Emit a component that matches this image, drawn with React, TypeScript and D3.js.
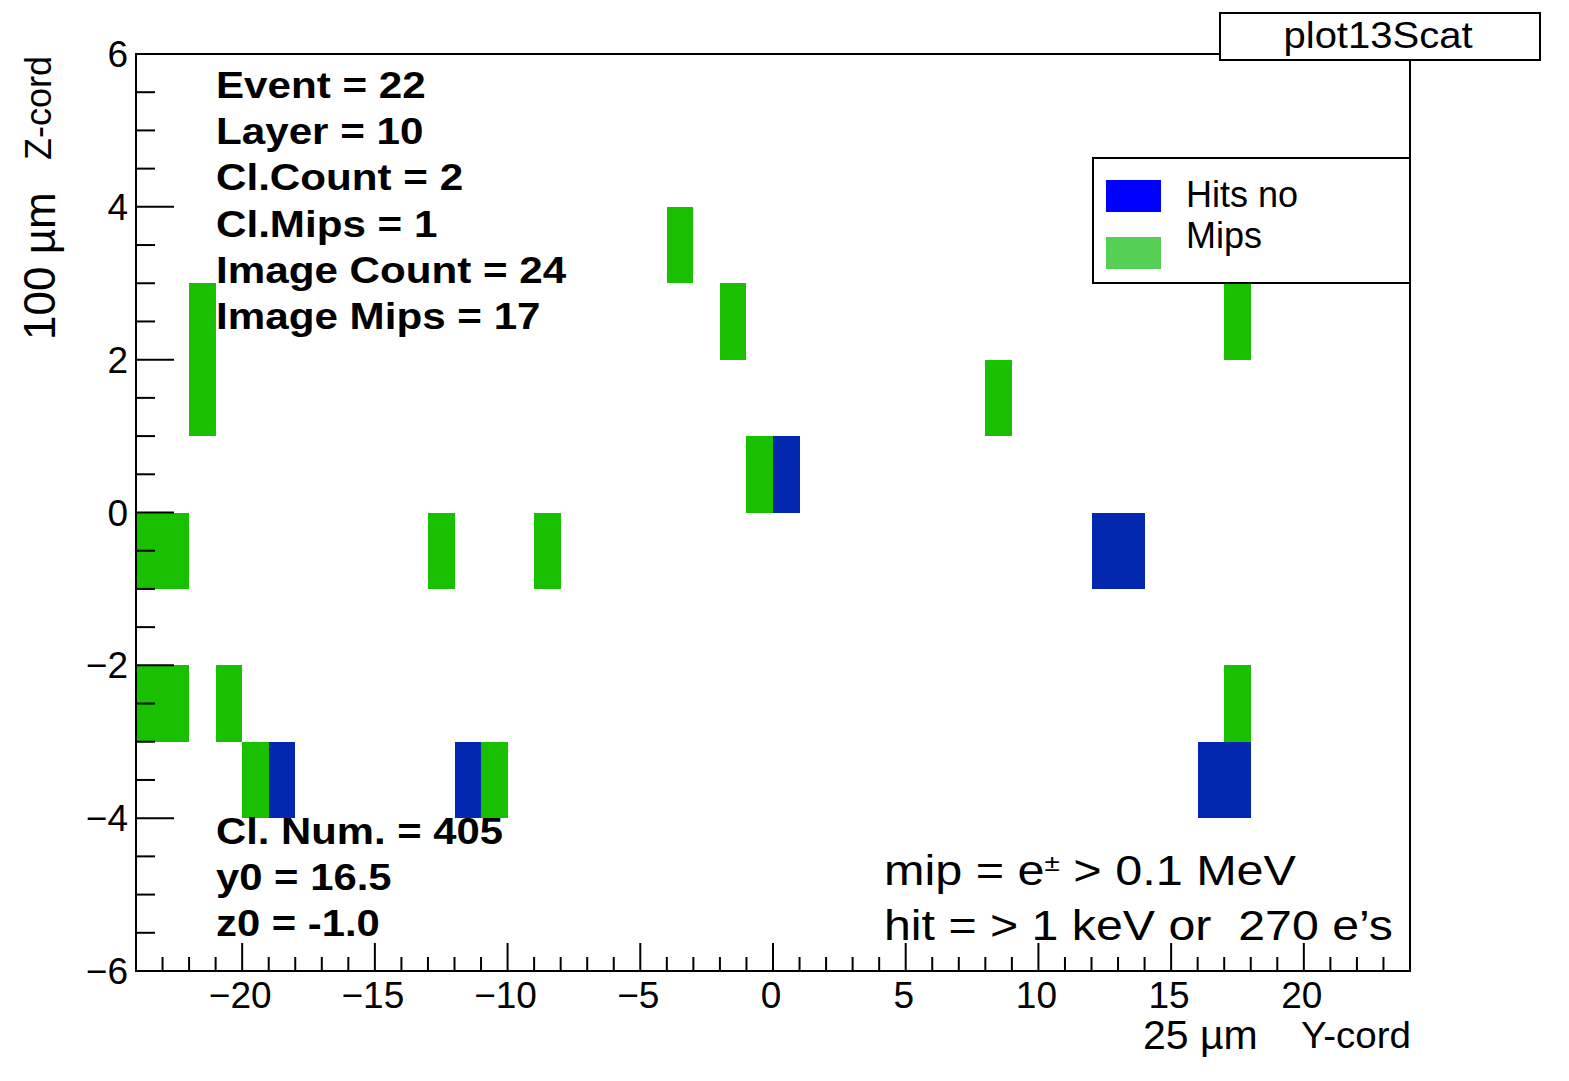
import React from "react";
import * as d3 from "d3";

// Y-cord / Z-cord lower bin edges of each filled cell
const mipY = [-22, -22, -4, -2, -1, 8, 17, -24, -23, -13, -9, -24, -23, -21, -20, -11, 17];
const mipZ = [1, 2, 3, 2, 0, 1, 2, -1, -1, -1, -1, -3, -3, -3, -4, -4, -3];
const hitY = [0, 12, 13, -19, -12, 16, 17];
const hitZ = [0, -1, -1, -4, -4, -4, -4];

const xTicks = [-20, -15, -10, -5, 0, 5, 10, 15, 20];
const yTicks = [-6, -4, -2, 0, 2, 4, 6];

const statsTop = ["Event = 22", "Layer = 10", "Cl.Count = 2", "Cl.Mips = 1", "Image Count = 24", "Image Mips = 17"];
const statsBottom = ["Cl. Num. = 405", "y0 = 16.5", "z0 = -1.0"];
const legendLabels = ["Hits no", "Mips"];

const W = 1569;
const H = 1081;
const FONT = "'Liberation Sans', Arial, Helvetica, sans-serif";

const App = () => {
  const x = d3.scaleLinear().domain([-24, 24]).range([136, 1410]);
  const y = d3.scaleLinear().domain([-6, 6]).range([971, 54]);
  const fmt = d3.format("d");

  const xMinor = d3.range(-24, 25, 1);
  const yMinor = d3.range(-6, 6.01, 0.5);

  const cell = (yy: number, zz: number, fill: string, key: string) => (
    <rect
      key={key}
      x={x(yy)}
      y={y(zz + 1)}
      width={x(yy + 1) - x(yy)}
      height={y(zz) - y(zz + 1)}
      fill={fill}
      shapeRendering="crispEdges"
    />
  );

  return (
    <div style={{ position: "fixed", left: 0, top: 0 }}>
      <svg width={W} height={H} style={{ display: "block", background: "#fff" }} fontFamily={FONT}>
        {/* cells */}
        {mipY.map((v, i) => cell(v, mipZ[i], "#18c000", "m" + i))}
        {hitY.map((v, i) => cell(v, hitZ[i], "#0328b0", "h" + i))}

        {/* frame */}
        <rect x={x(-24)} y={y(6)} width={x(24) - x(-24)} height={y(-6) - y(6)} fill="none" stroke="#000" strokeWidth={2} />

        {/* x ticks */}
        {xMinor.map((t) => (
          <line key={"xm" + t} x1={x(t)} x2={x(t)} y1={y(-6)} y2={y(-6) - (t % 5 === 0 ? 28 : 14)} stroke="#000" strokeWidth={2} />
        ))}
        {xTicks.map((t) => (
          <text key={"xl" + t} x={x(t) - 2} y={1008} fontSize={37} textAnchor="middle">
            {fmt(t)}
          </text>
        ))}

        {/* y ticks */}
        {yMinor.map((t) => (
          <line key={"ym" + t} x1={x(-24)} x2={x(-24) + (t % 2 === 0 ? 38 : 19)} y1={y(t)} y2={y(t)} stroke="#000" strokeWidth={2} />
        ))}
        {yTicks.map((t) => (
          <text key={"yl" + t} x={128} y={y(t) + 13} fontSize={37} textAnchor="end">
            {fmt(t)}
          </text>
        ))}

        {/* axis titles */}
        <text transform="translate(55,340) rotate(-90)" fontSize={44}>100 µm</text>
        <text transform="translate(51,160) rotate(-90)" fontSize={36}>Z-cord</text>
        <text x={1143} y={1049} fontSize={41}>25 µm</text>
        <text x={1301} y={1048} fontSize={36} textLength={110} lengthAdjust="spacingAndGlyphs">Y-cord</text>

        {/* stats */}
        {statsTop.map((s, i) => (
          <text key={s} transform={`translate(216,${98 + i * 46.2}) scale(1.14,1)`} fontSize={37} fontWeight="bold">
            {s}
          </text>
        ))}
        {statsBottom.map((s, i) => (
          <text key={s} transform={`translate(216,${844 + i * 46}) scale(1.13,1)`} fontSize={37} fontWeight="bold">
            {s}
          </text>
        ))}

        {/* notes */}
        <text x={884} y={885} fontSize={42} textLength={412} lengthAdjust="spacingAndGlyphs">
          mip = e<tspan fontSize={24} dy={-14}>±</tspan>
          <tspan dy={14}> &gt; 0.1 MeV</tspan>
        </text>
        <text x={884} y={940} fontSize={42} textLength={509} lengthAdjust="spacingAndGlyphs" xmlSpace="preserve">
          hit = &gt; 1 keV or  270 e’s
        </text>

        {/* legend */}
        <rect x={1093} y={158} width={1410 - 1093} height={125} fill="#fff" stroke="#000" strokeWidth={2} />
        {legendLabels.map((l, i) => (
          <g key={l}>
            <rect x={1106} y={180 + i * 57} width={55} height={32} fill={i === 0 ? "#0000ff" : "#55d055"} />
            <text x={1186} y={207 + i * 41} fontSize={36}>
              {l}
            </text>
          </g>
        ))}

        {/* title box */}
        <rect x={1220} y={13} width={320} height={47} fill="#fff" stroke="#000" strokeWidth={2} />
        <text x={1378} y={48} fontSize={37} textAnchor="middle" textLength={189} lengthAdjust="spacingAndGlyphs">
          plot13Scat
        </text>
      </svg>
    </div>
  );
};

export default App;
